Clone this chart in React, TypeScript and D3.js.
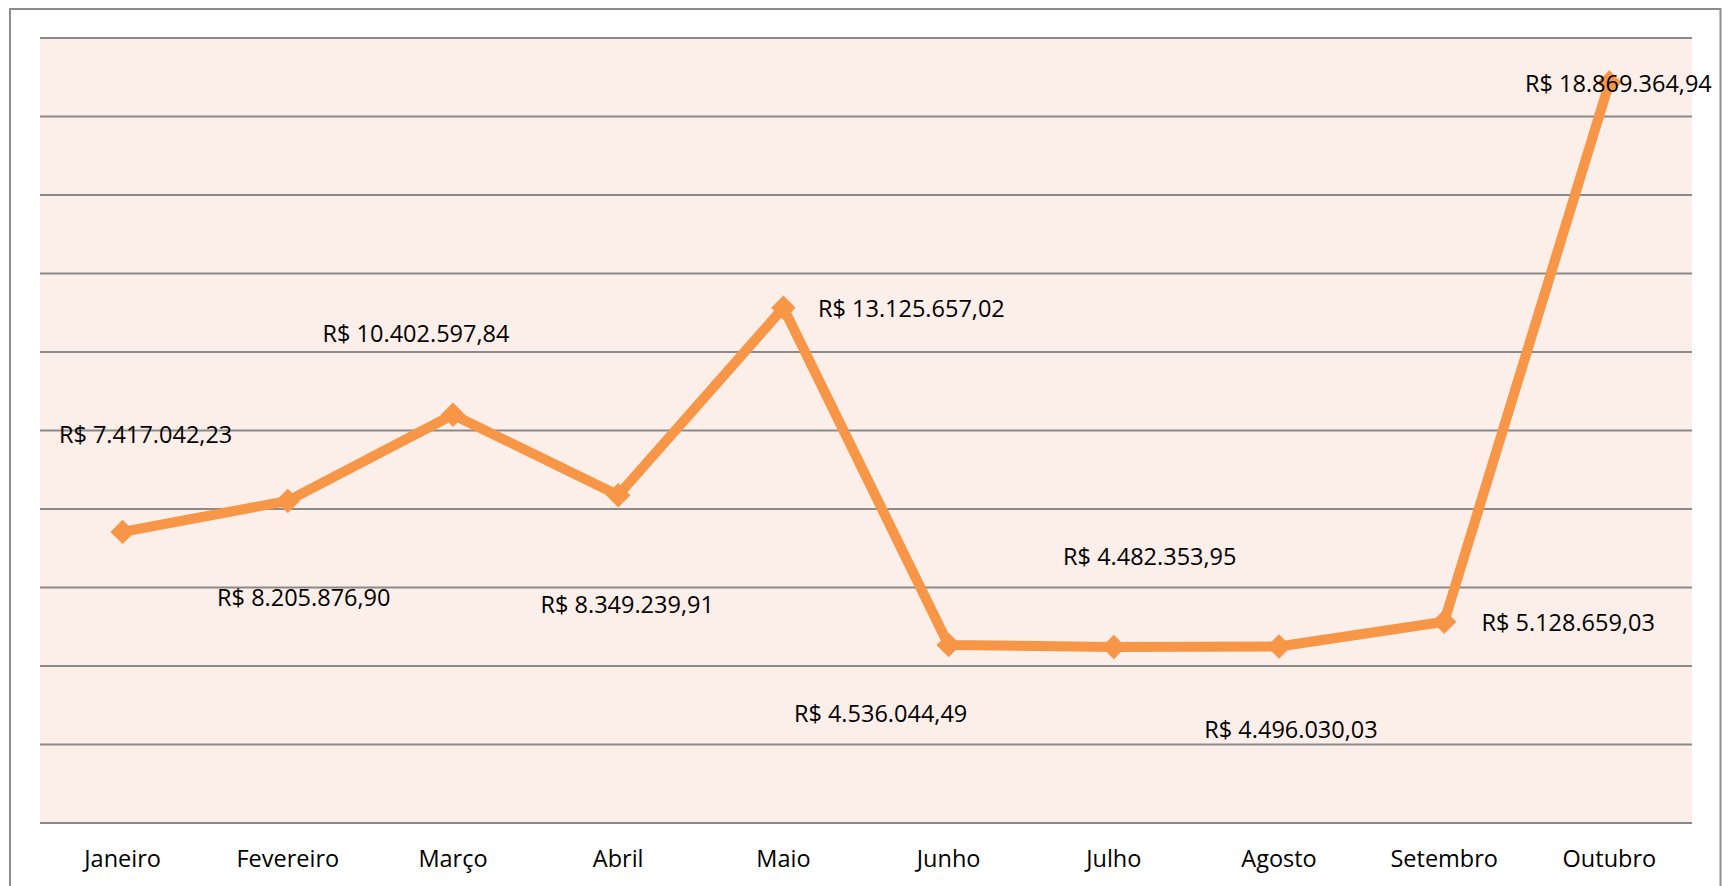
import React from "react";
import * as d3 from "d3";

const months = ["Janeiro", "Fevereiro", "Março", "Abril", "Maio", "Junho", "Julho", "Agosto", "Setembro", "Outubro"];
const revenue = [7417042.23, 8205876.9, 10402597.84, 8349239.91, 13125657.02, 4536044.49, 4482353.95, 4496030.03, 5128659.03, 18869364.94];
const yTicks = [0, 2e6, 4e6, 6e6, 8e6, 10e6, 12e6, 14e6, 16e6, 18e6, 20e6];

// manual data-label placement (dx, dy from the point), as in the original
const labelOffsets: [number, number][] = [
  [23, -89], [16, 105], [-37, -73], [9, 118], [128, 9],
  [-68, 77], [36, -82], [12, 91], [124, 9], [9, 10],
];

const W = 1722;
const H = 886;
const plot = { left: 40, right: 1692, top: 38, bottom: 823 };
const ORANGE = "#F79646";
const FONT = "'Open Sans', 'Liberation Sans', Arial, sans-serif";
const FS = 23.5;

const brl = d3.formatLocale({
  decimal: ",",
  thousands: ".",
  grouping: [3],
  currency: ["R$ ", ""],
});
const fmt = brl.format("$,.2f");

export default function App() {
  const x = d3.scaleBand<string>().domain(months).range([plot.left, plot.right]).padding(0);
  const y = d3.scaleLinear().domain([0, 20e6]).range([plot.bottom, plot.top]);
  const cx = (m: string) => (x(m) as number) + x.bandwidth() / 2;

  const line = d3
    .line<number>()
    .x((_, i) => cx(months[i]))
    .y((d) => y(d));

  const diamond = d3.symbol().type(d3.symbolDiamond2).size(380)();

  return (
    <svg
      width={W}
      height={H}
      style={{ position: "absolute", left: 0, top: 0, display: "block", background: "#fff" }}
    >
      <rect x={0} y={0} width={W} height={H} fill="#fff" />
      {/* outer chart border */}
      <path d={`M10,${H + 5} V9 H1720.5 V${H + 5}`} fill="none" stroke="#8c8c8c" strokeWidth={2} />
      {/* plot area */}
      <rect
        x={plot.left}
        y={plot.top}
        width={plot.right - plot.left}
        height={plot.bottom - plot.top}
        fill="#FCEEE9"
      />
      {yTicks.map((t) => (
        <line
          key={t}
          x1={plot.left}
          x2={plot.right}
          y1={y(t)}
          y2={y(t)}
          stroke="#8a8a8a"
          strokeWidth={2}
        />
      ))}
      <path
        d={line(revenue) || ""}
        fill="none"
        stroke={ORANGE}
        strokeWidth={10}
        strokeLinejoin="round"
        strokeLinecap="round"
      />
      {revenue.map((v, i) => (
        <path
          key={i}
          d={diamond || ""}
          transform={`translate(${cx(months[i])},${y(v)})`}
          fill={ORANGE}
        />
      ))}
      {revenue.map((v, i) => (
        <text
          key={"l" + i}
          x={cx(months[i]) + labelOffsets[i][0]}
          y={y(v) + labelOffsets[i][1]}
          textAnchor="middle"
          fontFamily={FONT}
          fontSize={FS}
          fill="#000"
        >
          {fmt(v)}
        </text>
      ))}
      {months.map((m) => (
        <text
          key={m}
          x={cx(m)}
          y={867}
          textAnchor="middle"
          fontFamily={FONT}
          fontSize={FS}
          fill="#000"
        >
          {m}
        </text>
      ))}
    </svg>
  );
}
